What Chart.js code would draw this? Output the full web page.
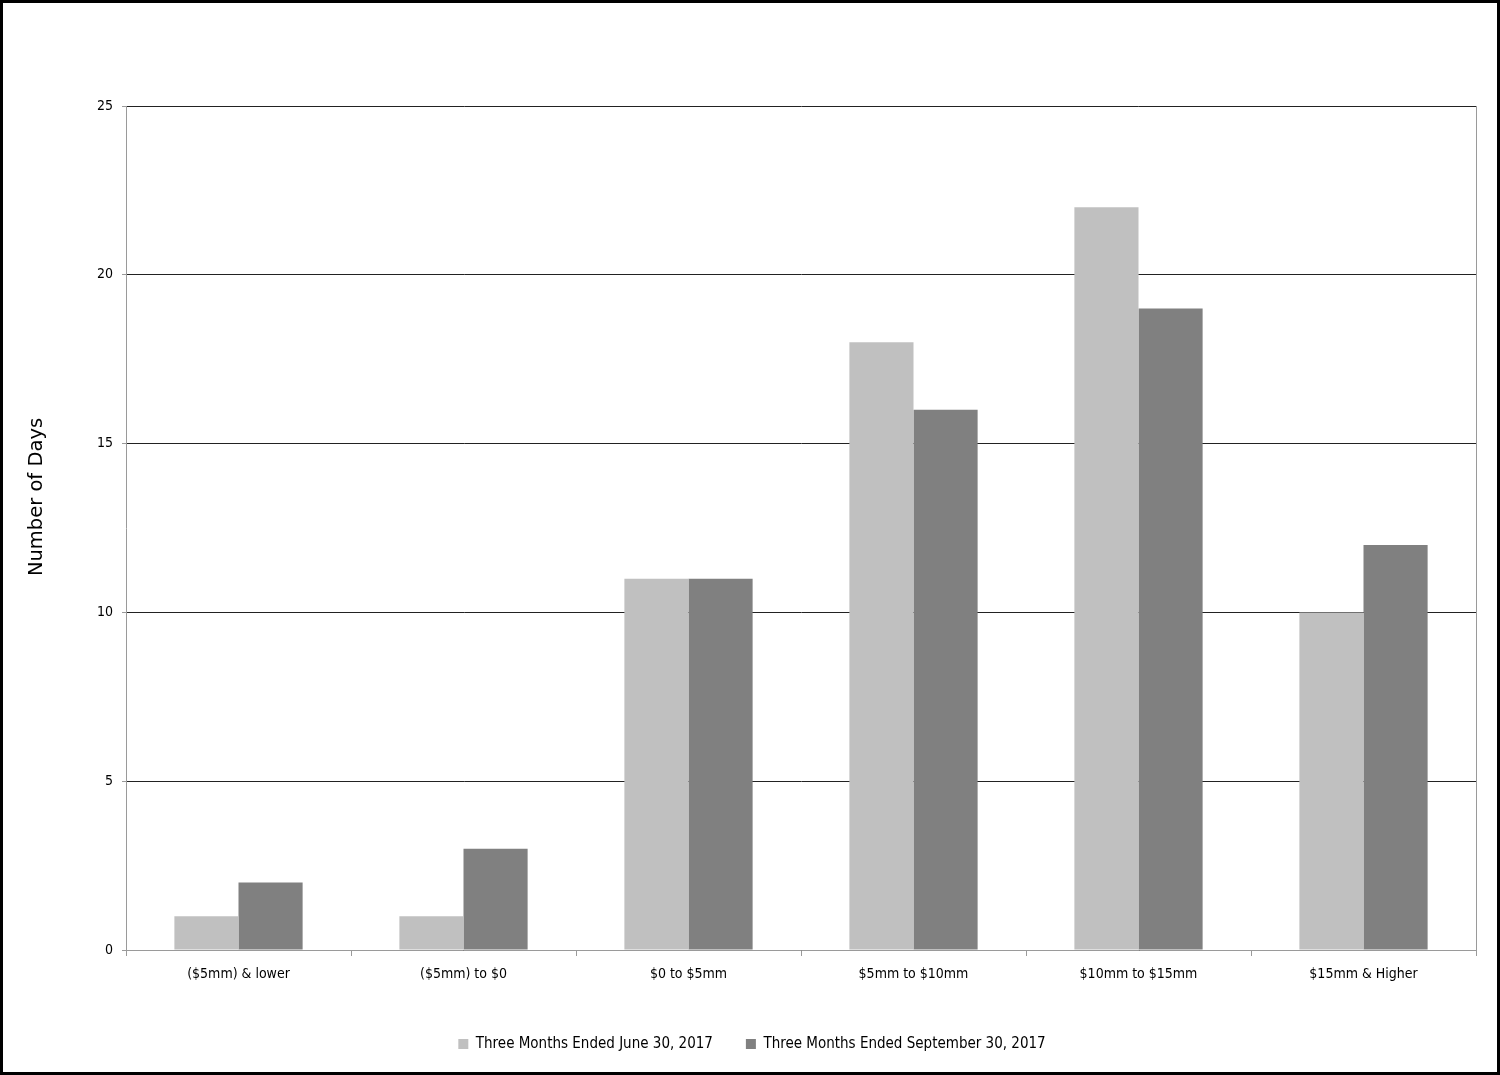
<!DOCTYPE html>
<html><head><meta charset="utf-8">
<script src="https://cdn.jsdelivr.net/npm/chart.js@4/dist/chart.umd.min.js"></script>
<style>html,body{margin:0;padding:0;background:#fff}#wrap{width:1500px;height:1075px;position:relative}</style>
</head><body><div id="wrap"><canvas id="c" width="1500" height="1075"></canvas></div>
<script>
const categories = ["($5mm) & lower", "($5mm) to $0", "$0 to $5mm", "$5mm to $10mm", "$10mm to $15mm", "$15mm & Higher"];
const seriesNames = ["Three Months Ended June 30, 2017", "Three Months Ended September 30, 2017"];
const june2017 = [1, 1, 11, 18, 22, 10];
const sept2017 = [2, 3, 11, 16, 19, 12];
const yTicks = [0, 5, 10, 15, 20, 25];
const yTitle = "Number of Days";

const narrow = "'DejaVu Sans Condensed', 'Liberation Sans Narrow', sans-serif";

const framePlugin = {
  id: 'frame',
  afterLayout(chart) {
    if (chart.legend) { chart.legend.left += 14; chart.legend.right += 14; }
  },
  beforeDraw(chart) {
    const ctx = chart.ctx;
    ctx.save();
    ctx.fillStyle = '#fff';
    ctx.fillRect(0, 0, chart.width, chart.height);
    ctx.restore();
  },
  afterDraw(chart) {
    const ctx = chart.ctx, a = chart.chartArea;
    ctx.save();
    ctx.strokeStyle = '#9a9a9a';
    ctx.lineWidth = 1;
    ctx.beginPath();
    ctx.moveTo(a.right + 0.5, a.top);
    ctx.lineTo(a.right + 0.5, a.bottom);
    ctx.stroke();
    // y axis title
    ctx.translate(37, 497);
    ctx.rotate(-Math.PI / 2);
    ctx.fillStyle = '#000';
    ctx.font = "19.5px 'DejaVu Sans', Verdana, sans-serif";
    ctx.textAlign = 'center';
    ctx.textBaseline = 'middle';
    ctx.fillText(yTitle, 0, 0);
    ctx.setTransform(1, 0, 0, 1, 0, 0);
    ctx.strokeStyle = '#000';
    ctx.lineWidth = 3;
    ctx.strokeRect(1.5, 1.5, chart.width - 3, chart.height - 3);
    ctx.restore();
  }
};

new Chart(document.getElementById('c'), {
  type: 'bar',
  data: {
    labels: categories,
    datasets: [
      { label: seriesNames[0], data: june2017, backgroundColor: '#c0c0c0', borderWidth: 0 },
      { label: seriesNames[1], data: sept2017, backgroundColor: '#808080', borderWidth: 0 }
    ]
  },
  options: {
    responsive: false,
    animation: false,
    devicePixelRatio: 1,
    layout: { padding: { left: 0, right: 24, top: 106, bottom: 13.5 } },
    datasets: { bar: { categoryPercentage: 0.57, barPercentage: 1.0 } },
    plugins: {
      tooltip: { enabled: false },
      legend: {
        position: 'bottom',
        labels: {
          boxWidth: 10, boxHeight: 10, padding: 33,
          color: '#000',
          font: { family: narrow, size: 15 }
        }
      }
    },
    scales: {
      x: {
        offset: true,
        grid: { display: true, drawOnChartArea: false, offset: true, color: '#9a9a9a', tickLength: 6 },
        border: { display: true, color: '#9a9a9a' },
        ticks: { color: '#000', font: { family: narrow, size: 14 }, padding: 10, maxRotation: 0 },
        afterFit(s) { s.height = 53.5; }
      },
      y: {
        min: 0, max: 25,
        afterBuildTicks(s) { s.ticks = yTicks.map(v => ({ value: v })); },
        grid: { color: '#222', lineWidth: 1, tickLength: 4, tickColor: '#9a9a9a' },
        border: { display: true, color: '#9a9a9a' },
        ticks: { color: '#000', font: { family: narrow, size: 14 }, padding: 9 },
        title: { display: false },
        afterFit(s) { s.width = 126; }
      }
    }
  },
  plugins: [framePlugin]
});
</script></body></html>
